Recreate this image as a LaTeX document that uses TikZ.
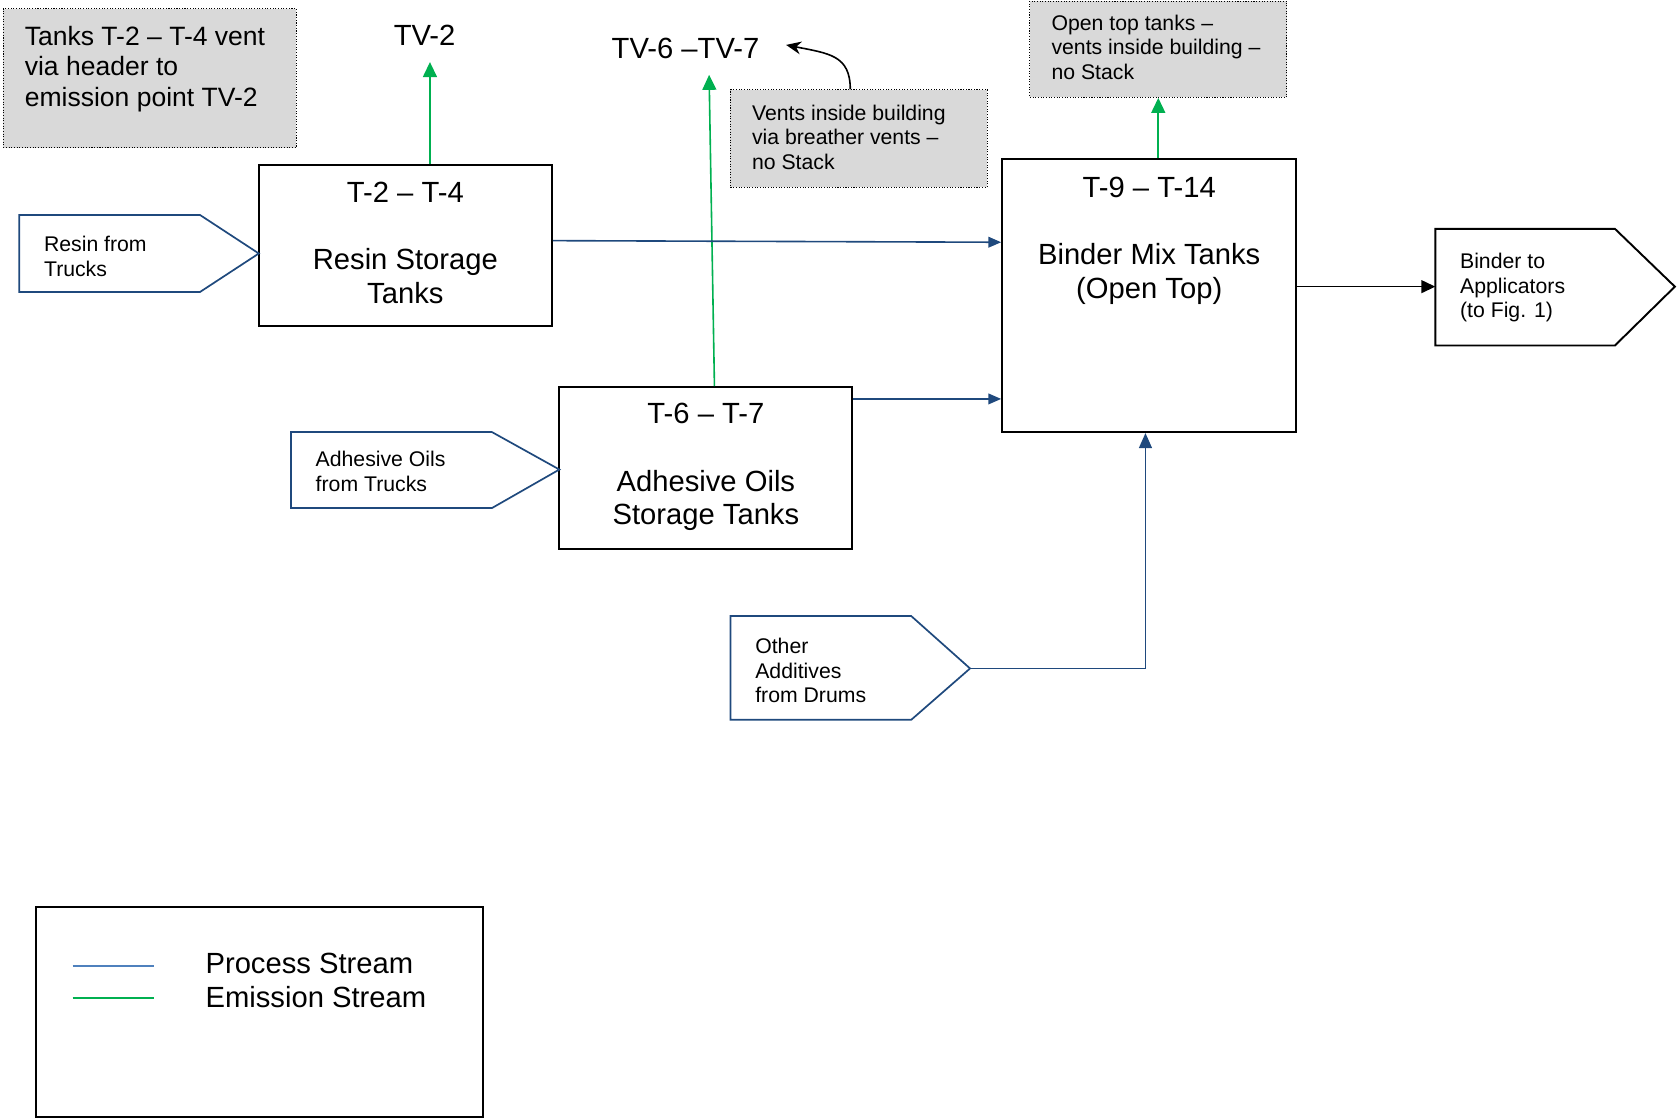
\documentclass[tikz,border=0pt]{standalone}
\usepackage{fontspec}
\setmainfont{Liberation Sans}
\usetikzlibrary{arrows.meta}
\definecolor{procblue}{RGB}{31,73,125}
\definecolor{legblue}{RGB}{79,129,189}
\definecolor{emitgreen}{RGB}{0,176,80}
\definecolor{notegray}{RGB}{217,217,217}
\newcommand\txtbig{\fontsize{27.3pt}{31.5pt}\selectfont}
\newcommand\txtmed{\fontsize{24.8pt}{28.5pt}\selectfont}
\newcommand\txtsml{\fontsize{19.85pt}{23pt}\selectfont}
\begin{document}
\begin{tikzpicture}[x=1pt,y=-1pt,
  tank/.style={draw=black,line width=1.8pt,inner sep=0pt,fill=white},
  notebox/.style={draw=black,fill=notegray,line width=1pt,dash pattern=on 1pt off 1.5pt,inner sep=0pt},
  feed/.style={draw=procblue,line width=1.6pt,line join=miter},
  proc/.style={draw=procblue,line width=1.5pt,-{Triangle[length=12pt,width=10pt]}},
  emit/.style={draw=emitgreen,line width=1.5pt,-{Triangle[length=14pt,width=13pt]}},
  blk/.style={draw=black,line width=1.5pt,-{Triangle[length=13pt,width=12pt]}},
  lbl/.style={inner sep=0pt,align=left},
  ctr/.style={inner sep=0pt,align=center,font=\txtbig}]
\useasboundingbox (0,0) rectangle (1568,1045);

% notes
\node[notebox,minimum width=274pt,minimum height=130pt] (note1) at (140,73) {};
\node[notebox,minimum width=240pt,minimum height=91pt] (vents) at (803,129.5) {};
\node[notebox,minimum width=240pt,minimum height=90pt] (opentop) at (1083,46) {};
\node[lbl,anchor=north west,font=\txtmed] (note1txt) at (23,24) {Tanks T-2 – T-4 vent\\via header to\\emission point TV-2};
\node[lbl,anchor=north west,font=\txtsml] (ventstxt) at (703,97.7) {Vents inside building\\via breather vents –\\no Stack};
\node[lbl,anchor=north west,font=\txtsml] (opentxt) at (983,13.7) {Open top tanks –\\vents inside building –\\no Stack};

% emission points
\node[ctr,anchor=north] (tv2) at (397,23) {TV-2};
\node[ctr,anchor=north] (tv67) at (641,35) {TV-6 –TV-7};

% tanks
\node[tank,minimum width=274pt,minimum height=151pt] (resin) at (379,229.5) {};
\node[tank,minimum width=275pt,minimum height=255pt] (binder) at (1074.5,276.5) {};
\node[tank,minimum width=274pt,minimum height=151pt] (adhesive) at (660,437.5) {};
\node[ctr,anchor=north] (resintxt) at (379,170) {T-2 – T-4\\[31.5pt]Resin Storage\\Tanks};
\node[ctr,anchor=north] (bindertxt) at (1074.5,165) {T-9 – T-14\\[31.5pt]Binder Mix Tanks\\(Open Top)};
\node[ctr,anchor=north] (adhtxt) at (660,377) {T-6 – T-7\\[31.5pt]Adhesive Oils\\Storage Tanks};

% incoming and outgoing streams
\draw[feed] (18,201) -- (187,201) -- (242,237) -- (187,273) -- (18,273) -- cycle;
\draw[feed] (272,404) -- (460,404) -- (523,439) -- (460,475) -- (272,475) -- cycle;
\draw[feed] (683,576) -- (852,576) -- (907,625) -- (852,673) -- (683,673) -- cycle;
\draw[black,line width=1.8pt,line join=miter] (1342,214) -- (1510,214) -- (1566,268) -- (1510,323) -- (1342,323) -- cycle;
\coordinate (addtip) at (907,625);
\coordinate (outin) at (1342,268);
\node[lbl,anchor=north west,font=\txtsml] (resinfeedtxt) at (41,220.7) {Resin from\\Trucks};
\node[lbl,anchor=north west,font=\txtsml] (adhfeedtxt) at (295,421.7) {Adhesive Oils\\from Trucks};
\node[lbl,anchor=north west,font=\txtsml] (addtxt) at (706,596.7) {Other\\Additives\\from Drums};
\node[lbl,anchor=north west,font=\txtsml] (outtxt) at (1365,236.7) {Binder to\\Applicators\\(to Fig. 1)};

% emission connectors
\coordinate (tv2in) at (402,58);
\coordinate (tv67in) at (663,70);
\coordinate (tv67note) at (735,42);
\draw[emit] (resin.north -| tv2in) -- (tv2in);
\draw[emit] ([xshift=8pt]adhesive.north) -- (tv67in);
\draw[emit] (binder.north -| opentop.south) -- (opentop.south);
\draw[black,line width=1.5pt,-{Stealth[length=14pt,width=12pt]}] ([xshift=-8pt]vents.north) .. controls +(0,-32) and +(40,8) .. (tv67note);

% process connectors
\draw[proc] ([yshift=4.5pt]resin.east) -- ([yshift=50pt]binder.west);
\draw[proc] ([yshift=64.5pt]adhesive.east) -- ([yshift=-96.5pt]binder.west);
\draw[draw=procblue,line width=1.5pt,-{Triangle[length=14pt,width=12pt]}] (addtip) -| ([xshift=-3.5pt]binder.south);
\draw[blk] ([yshift=8.5pt]binder.east) -- (outin);

% legend
\node[tank,minimum width=418pt,minimum height=196pt] (legend) at (243,946) {};
\draw[legblue,line width=1.5pt] (68,903) -- (144,903);
\draw[emitgreen,line width=1.5pt] (68,933) -- (144,933);
\node[lbl,anchor=north west,font=\txtbig] (legendtxt) at (192,891) {Process Stream\\Emission Stream};
\end{tikzpicture}
\end{document}
